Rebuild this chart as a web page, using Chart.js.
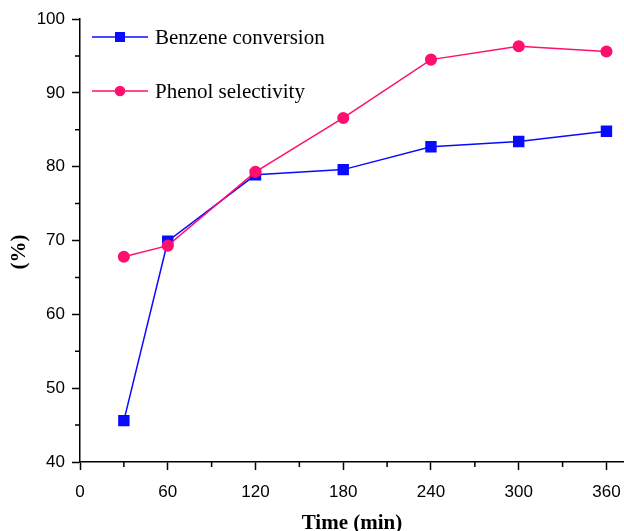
<!DOCTYPE html>
<html>
<head>
<meta charset="utf-8">
<script src="https://cdn.jsdelivr.net/npm/chart.js@4"></script>
<style>
  html, body { margin:0; padding:0; background:#fff; }
  #wrap { width:624px; height:531px; }
</style>
</head>
<body>
<div id="wrap"><canvas id="chart" width="624" height="531"></canvas></div>
<script>
const timeMin = [30, 60, 120, 180, 240, 300, 360];
const benzeneConversion = [45.6, 69.9, 78.9, 79.6, 82.7, 83.4, 84.8];
const phenolSelectivity = [67.8, 69.3, 79.3, 86.6, 94.5, 96.3, 95.6];
const xTicks = [0, 60, 120, 180, 240, 300, 360];
const yTicks = [40, 50, 60, 70, 80, 90, 100];

const BLUE = '#0a0aff';
const PINK = '#ff0f6e';
const SERIF = '"Liberation Serif", "Times New Roman", serif';
const SANS = '"Liberation Sans", Arial, sans-serif';

// minor ticks half-way between the major ones, y title, legend inside the plot
const extras = {
  id: 'extras',
  afterDraw(chart) {
    const { ctx, scales: { x, y } } = chart;
    ctx.save();
    ctx.strokeStyle = '#000';
    ctx.lineWidth = 1.5;
    ctx.beginPath();
    for (let i = 0; i < xTicks.length; i++) {
      const v = xTicks[i] + 30;
      if (v > x.max) break;
      const px = x.getPixelForValue(v);
      ctx.moveTo(px, y.bottom);
      ctx.lineTo(px, y.bottom + 5);
    }
    for (let i = 0; i < yTicks.length - 1; i++) {
      const py = y.getPixelForValue(yTicks[i] + 5);
      ctx.moveTo(x.left, py);
      ctx.lineTo(x.left - 5, py);
    }
    ctx.stroke();

    // y axis title
    ctx.save();
    ctx.translate(20, 252);
    ctx.rotate(-Math.PI / 2);
    ctx.font = 'bold 21px ' + SERIF;
    ctx.fillStyle = '#000';
    ctx.textAlign = 'center';
    ctx.textBaseline = 'middle';
    ctx.fillText('(%)', 0, 0);
    ctx.restore();

    // legend
    const rows = [
      { label: 'Benzene conversion', color: BLUE, style: 'rect', y: 37 },
      { label: 'Phenol selectivity', color: PINK, style: 'circle', y: 91 }
    ];
    ctx.font = '21px ' + SERIF;
    ctx.textBaseline = 'middle';
    ctx.textAlign = 'left';
    rows.forEach(r => {
      ctx.strokeStyle = r.color;
      ctx.lineWidth = 1.5;
      ctx.beginPath();
      ctx.moveTo(92, r.y);
      ctx.lineTo(148, r.y);
      ctx.stroke();
      ctx.fillStyle = r.color;
      ctx.beginPath();
      if (r.style === 'rect') ctx.rect(115, r.y - 5, 10, 10);
      else ctx.arc(120, r.y, 5.3, 0, Math.PI * 2);
      ctx.fill();
      ctx.fillStyle = '#000';
      ctx.fillText(r.label, 155, r.y + 1);
    });
    ctx.restore();
  }
};

new Chart(document.getElementById('chart'), {
  type: 'line',
  data: {
    datasets: [{
      label: 'Benzene conversion',
      data: timeMin.map((t, i) => ({ x: t, y: benzeneConversion[i] })),
      borderColor: BLUE,
      backgroundColor: BLUE,
      pointStyle: 'rect',
      pointRadius: 7,
      borderWidth: 1.5,
      tension: 0,
      order: 1
    }, {
      label: 'Phenol selectivity',
      data: timeMin.map((t, i) => ({ x: t, y: phenolSelectivity[i] })),
      borderColor: PINK,
      backgroundColor: PINK,
      pointStyle: 'circle',
      pointRadius: 5.3,
      borderWidth: 1.5,
      tension: 0,
      order: 0
    }]
  },
  plugins: [extras],
  options: {
    responsive: false,
    animation: false,
    layout: { autoPadding: false, padding: { top: 19, right: 0, left: 0, bottom: 0 } },
    plugins: { legend: { display: false }, tooltip: { enabled: false } },
    scales: {
      x: {
        type: 'linear',
        min: 0, max: 372,
        afterBuildTicks: s => { s.ticks = xTicks.map(v => ({ value: v })); },
        afterFit: s => { s.height = 69; s.paddingRight = 0; },
        grid: { drawOnChartArea: false, drawTicks: true, tickLength: 8, tickColor: '#000', tickWidth: 1.5 },
        border: { display: true, color: '#000', width: 1.5 },
        ticks: { color: '#000', padding: 12, maxRotation: 0, font: { family: SANS, size: 17 } },
        title: { display: true, text: 'Time (min)', color: '#000', padding: { top: 0, bottom: -3 }, font: { family: SERIF, size: 21, weight: 'bold', lineHeight: 1 } }
      },
      y: {
        min: 40, max: 100,
        afterBuildTicks: s => { s.ticks = yTicks.map(v => ({ value: v })); },
        afterFit: s => { s.width = 80; },
        grid: { drawOnChartArea: false, drawTicks: true, tickLength: 8, tickColor: '#000', tickWidth: 1.5 },
        border: { display: true, color: '#000', width: 1.5 },
        ticks: { color: '#000', padding: 7, font: { family: SANS, size: 17 } }
      }
    }
  }
});
</script>
</body>
</html>
